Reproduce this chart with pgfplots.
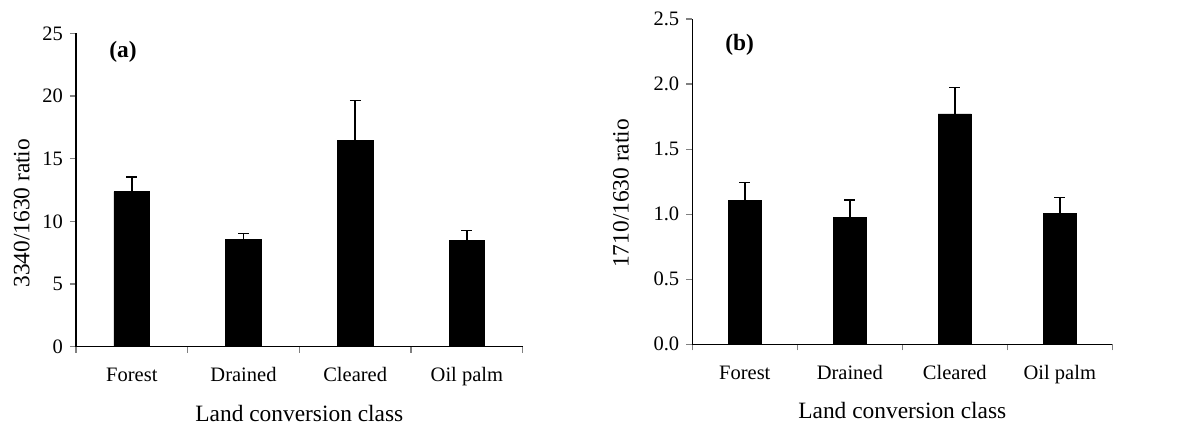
\documentclass[border=0pt]{standalone}
\usepackage{pgfplots}
\pgfplotsset{compat=1.18}
\usepackage{fontspec}
\setmainfont{Liberation Serif}
\newcommand{\tickfont}{\fontsize{10.25}{12}\selectfont}
\newcommand{\labfont}{\fontsize{11.7}{14}\selectfont}
\pgfplotsset{
  mystyle/.style={
    scale only axis,
    anchor=south west,
    axis x line=bottom, axis y line=left,
    axis line style={-, line width=0.6pt},
    tick align=outside,
    xmin=0, xmax=4,
    xtick={0.5,1.5,2.5,3.5},
    xticklabels={Forest,Drained,Cleared,Oil palm},
    minor xtick={0,1,2,3,4},
    major x tick style={draw=none},
    minor x tick style={line width=0.6pt},
    minor tick length=3pt,
    major tick length=3pt,
    y tick style={line width=0.6pt},
    ymin=0,
    tick label style={font=\tickfont},
    xticklabel style={yshift=-3.5pt, text height=1.6ex, text depth=0.4ex},
    /pgf/number format/assume math mode=true,
    xlabel={Land conversion class},
    xlabel style={font=\labfont, yshift=-3pt},
    clip=false,
  },
  mybar/.style={
    ybar, fill=black, draw=black,
    error bars/y dir=plus, error bars/y explicit,
    error bars/error bar style={line width=0.75pt, black},
    error bars/error mark options={rotate=90, mark size=2.7pt, line width=0.75pt, black},
  },
}
\begin{document}
\begin{tikzpicture}
\path[use as bounding box] (0,0) rectangle (595pt,214pt);
\begin{axis}[mystyle,
  at={(38pt,40.65pt)},
  width=223.35pt, height=156.65pt,
  ymax=25, ytick={0,5,10,15,20,25},
  ylabel={3340/1630 ratio},
  every axis y label/.style={at={(axis description cs:-0.1215,0.426)}, rotate=90, anchor=center, font=\labfont},
]
\addplot[mybar, bar width=17.85pt] coordinates {
  (0.5,12.37) +- (0,1.17)
  (1.5,8.54) +- (0,0.50)
  (2.5,16.44) +- (0,3.21)
  (3.5,8.51) +- (0,0.75)
};
\node[font=\labfont\bfseries] at (axis cs:0.42,23.5) {(a)};
\end{axis}
\begin{axis}[mystyle,
  at={(346.15pt,41.85pt)},
  width=210pt, height=162.65pt,
  ymax=2.5, ytick={0,0.5,1,1.5,2,2.5},
  yticklabel style={/pgf/number format/.cd, fixed, fixed zerofill, precision=1},
  ylabel={1710/1630 ratio},
  every axis y label/.style={at={(axis description cs:-0.170,0.464)}, rotate=90, anchor=center, font=\labfont},
]
\addplot[mybar, bar width=16.65pt] coordinates {
  (0.5,1.104) +- (0,0.138)
  (1.5,0.973) +- (0,0.136)
  (2.5,1.770) +- (0,0.205)
  (3.5,1.004) +- (0,0.123)
};
\node[font=\labfont\bfseries] at (axis cs:0.45,2.30) {(b)};
\end{axis}
\end{tikzpicture}
\end{document}
